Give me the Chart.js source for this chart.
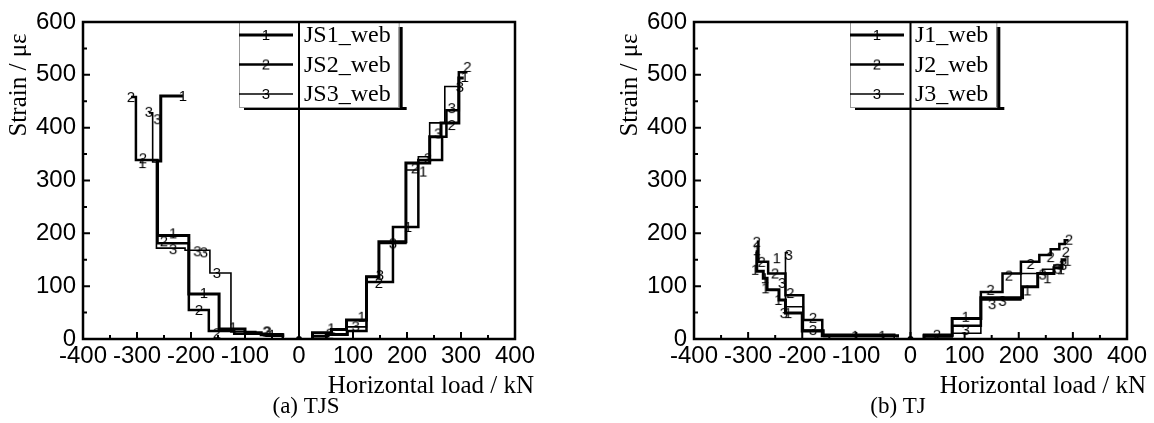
<!DOCTYPE html>
<html>
<head>
<meta charset="utf-8">
<script src="https://cdn.jsdelivr.net/npm/chart.js@4.4.1/dist/chart.umd.min.js"></script>
<style>
  html, body { margin: 0; padding: 0; background: #fff; }
  #wrap { position: relative; width: 1154px; height: 423px; }
  canvas { position: absolute; top: 0; }
  #tjs { left: 0; }
  #tj { left: 577px; }
</style>
</head>
<body>
<div id="wrap">
  <canvas id="tjs" width="577" height="423"></canvas>
  <canvas id="tj" width="577" height="423"></canvas>
</div>
<script>
// step curves: load (kN) / strain (με), negative side then null then positive side
// (a) TJS
const tjs1Load = [-30, -70, -100, -148, -204, -262, -256, -215, null, 25, 60, 88, 125, 148, 198, 242, 263, 296, 305];
const tjs1Strain = [4, 8, 12, 19, 85, 196, 337, 460, null, 0, 12, 18, 36, 118, 184, 333, 383, 409, 494];
const tjs2Load = [-30, -60, -120, -167, -204, -262, -302, -311, null, 25, 50, 90, 125, 174, 221, 265, 273, 296, 312];
const tjs2Strain = [2, 6, 10, 15, 55, 181, 339, 458, null, 0, 5, 8, 15, 108, 212, 339, 383, 433, 505];
const tjs3Load = [-30, -80, -126, -165, -211, -264, -271, -278, null, 25, 55, 88, 125, 148, 198, 221, 242, 270, 300];
const tjs3Strain = [8, 10, 14, 125, 168, 172, 335, 428, null, 0, 5, 10, 23, 118, 181, 320, 345, 409, 478];

// number symbols on the curves
const tjs1MarkLoad = [-50, -122, -176, -233, -290, -215, 60, 116, 202, 230, 307];
const tjs1MarkStrain = [8, 22, 87, 200, 333, 460, 20, 42, 212, 317, 496];
const tjs2MarkLoad = [-311, -289, -250, -185, -152, -60, 57, 148, 215, 283, 312];
const tjs2MarkStrain = [458, 342, 185, 55, 11, 14, 10, 106, 323, 405, 515];
const tjs3MarkLoad = [-278, -262, -233, -188, -176, -152, -58, 105, 150, 174, 239, 258, 283, 298];
const tjs3MarkStrain = [430, 416, 170, 166, 164, 125, 14, 24, 121, 181, 342, 389, 437, 477];

// (b) TJ
const tj1Load = [-24, -163, -200, -231, -243, -265, -272, -284, -286, null, 25, 77, 130, 207, 235, 265, 280, 288];
const tj1Strain = [3, 6, 15, 49, 74, 93, 115, 128, 165, null, 2, 6, 39, 78, 99, 124, 135, 150];
const tj2Load = [-30, -163, -198, -231, -263, -281, -284, null, 25, 77, 130, 170, 204, 238, 259, 275, 285, 292];
const tj2Strain = [5, 8, 36, 83, 124, 146, 184, null, 3, 8, 25, 89, 124, 146, 159, 170, 180, 187];
const tj3Load = [-30, -160, -198, -231, -226, null, 25, 77, 130, 204, 244, 265, 282];
const tj3Strain = [2, 5, 17, 61, 163, null, 2, 4, 11, 74, 124, 132, 140];

const tj1MarkLoad = [-52, -102, -226, -244, -268, -269, -287, -284, -247, 102, 216, 253, 278, 290];
const tj1MarkStrain = [6, 6, 49, 74, 96, 115, 131, 168, 153, 42, 92, 115, 132, 148];
const tj2MarkLoad = [-284, -275, -250, -222, -180, 49, 148, 182, 222, 259, 287, 293];
const tj2MarkStrain = [184, 146, 124, 87, 40, 8, 93, 120, 142, 155, 165, 188];
const tj3MarkLoad = [-225, -237, -234, -180, 102, 151, 170, 244, 272, 282];
const tj3MarkStrain = [159, 106, 49, 17, 17, 66, 72, 122, 133, 140];

const lineWidths = [3, 2.5, 1.6];

function pts(xs, ys) {
  return xs.map((x, i) => ({ x: x, y: ys[i] }));
}

function digitMark(d) {
  const c = document.createElement("canvas");
  c.width = 12;
  c.height = 16;
  const g = c.getContext("2d");
  g.font = '15px "Liberation Sans"';
  g.textAlign = "center";
  g.textBaseline = "middle";
  g.fillStyle = "#000";
  g.fillText(d, 6, 8.5);
  return c;
}
const marks = [digitMark("1"), digitMark("2"), digitMark("3")];

function stepSet(xs, ys, i) {
  return {
    data: pts(xs, ys),
    showLine: true,
    stepped: "after",
    borderColor: "#000",
    borderWidth: lineWidths[i],
    pointRadius: 0,
    fill: false,
    order: 1,
  };
}

function markSet(xs, ys, i) {
  return {
    data: pts(xs, ys),
    showLine: false,
    pointStyle: marks[i],
    pointRadius: 5,
    order: 0,
  };
}

const originDot = {
  data: [{ x: 0, y: 0 }],
  showLine: false,
  pointRadius: 3,
  pointBackgroundColor: "#000",
  pointBorderWidth: 0,
  order: 0,
};

// legend box, frame, zero line, inward ticks and titles
const decor = {
  id: "decor",
  afterDraw(chart, args, o) {
    const { ctx, chartArea: a, scales } = chart;
    const x = scales.x, y = scales.y;
    ctx.save();

    // legend
    ctx.font = '24px "Liberation Serif"';
    const tw = Math.max(...o.labels.map((t) => ctx.measureText(t).width));
    const bx = a.left + 156, by = a.top;
    const bw = 65 + tw + 9, bh = 85;
    ctx.fillStyle = "#fff";
    ctx.fillRect(bx, by, bw, bh);
    ctx.fillStyle = "#000";
    ctx.fillRect(bx + bw - 1, by + 5, 4, bh - 2);
    ctx.fillRect(bx + 5, by + bh, bw + 2, 3);
    ctx.strokeStyle = "#999";
    ctx.lineWidth = 1;
    ctx.strokeRect(bx + 0.5, by + 0.5, bw - 1, bh);
    ctx.strokeStyle = "#000";
    o.labels.forEach((t, i) => {
      const ry = by + 13 + i * 29.5;
      ctx.beginPath();
      ctx.lineWidth = lineWidths[i];
      ctx.moveTo(bx, ry);
      ctx.lineTo(bx + 54, ry);
      ctx.stroke();
      ctx.drawImage(marks[i], bx + 27 - 6, ry - 8);
      ctx.fillStyle = "#000";
      ctx.textAlign = "left";
      ctx.textBaseline = "middle";
      ctx.fillText(t, bx + 65, ry + 1);
    });

    // frame
    ctx.strokeStyle = "#000";
    ctx.lineWidth = 2.5;
    ctx.strokeRect(a.left, a.top, a.width, a.height);

    // zero line
    const x0 = x.getPixelForValue(0);
    ctx.lineWidth = 2;
    ctx.beginPath();
    ctx.moveTo(x0, a.bottom);
    ctx.lineTo(x0, a.top);
    ctx.stroke();

    // inward major and minor ticks
    ctx.lineWidth = 2;
    ctx.beginPath();
    x.ticks.forEach((t, i) => {
      const px = x.getPixelForValue(t.value);
      ctx.moveTo(px, a.bottom);
      ctx.lineTo(px, a.bottom - 7);
      if (i > 0) {
        const pm = x.getPixelForValue((t.value + x.ticks[i - 1].value) / 2);
        ctx.moveTo(pm, a.bottom);
        ctx.lineTo(pm, a.bottom - 4);
      }
    });
    y.ticks.forEach((t, i) => {
      const py = y.getPixelForValue(t.value);
      ctx.moveTo(a.left, py);
      ctx.lineTo(a.left + 7, py);
      if (i > 0) {
        const pm = y.getPixelForValue((t.value + y.ticks[i - 1].value) / 2);
        ctx.moveTo(a.left, pm);
        ctx.lineTo(a.left + 4, pm);
      }
    });
    ctx.stroke();

    // titles
    ctx.fillStyle = "#000";
    ctx.font = '25px "Liberation Serif"';
    ctx.textAlign = "right";
    ctx.textBaseline = "alphabetic";
    ctx.fillText(o.xTitle, a.right + 19, a.bottom + 54);
    ctx.save();
    ctx.translate(a.left - 64, a.top + 63);
    ctx.rotate(-Math.PI / 2);
    ctx.textAlign = "center";
    ctx.textBaseline = "middle";
    ctx.fillText(o.yTitle, 0, 0);
    ctx.restore();
    ctx.font = '23px "Liberation Serif"';
    ctx.textAlign = "center";
    ctx.fillText(o.caption, o.captionX, a.bottom + 74);

    ctx.restore();
  },
};

function makeChart(id, lines, marksData, opts) {
  const datasets = [];
  lines.forEach((l, i) => datasets.push(stepSet(l[0], l[1], i)));
  marksData.forEach((m, i) => datasets.push(markSet(m[0], m[1], i)));
  datasets.push(originDot);

  const tickFont = { family: "Liberation Sans", size: 24 };
  return new Chart(document.getElementById(id), {
    type: "scatter",
    data: { datasets },
    options: {
      responsive: false,
      devicePixelRatio: 1,
      animation: false,
      events: [],
      layout: { padding: { top: 22, right: opts.padRight, left: 0, bottom: 0 } },
      scales: {
        x: {
          type: "linear",
          min: -400,
          max: 400,
          afterFit: (s) => { s.height = 84; },
          grid: { display: false, drawTicks: false },
          border: { display: false },
          ticks: { stepSize: 100, font: tickFont, color: "#000", padding: 3, maxRotation: 0, autoSkip: false },
        },
        y: {
          type: "linear",
          min: 0,
          max: 600,
          afterFit: (s) => { s.width = opts.axisW; },
          grid: { display: false, drawTicks: false },
          border: { display: false },
          ticks: { stepSize: 100, font: tickFont, color: "#000", padding: 7 },
        },
      },
      plugins: {
        legend: { display: false },
        tooltip: { enabled: false },
        decor: {
          labels: opts.labels,
          caption: opts.caption,
          captionX: opts.captionX,
          xTitle: "Horizontal load / kN",
          yTitle: "Strain / με",
        },
      },
    },
    plugins: [decor],
  });
}

makeChart(
  "tjs",
  [[tjs1Load, tjs1Strain], [tjs2Load, tjs2Strain], [tjs3Load, tjs3Strain]],
  [[tjs1MarkLoad, tjs1MarkStrain], [tjs2MarkLoad, tjs2MarkStrain], [tjs3MarkLoad, tjs3MarkStrain]],
  { axisW: 83, padRight: 62, labels: ["JS1_web", "JS2_web", "JS3_web"], caption: "(a) TJS", captionX: 306 }
);

makeChart(
  "tj",
  [[tj1Load, tj1Strain], [tj2Load, tj2Strain], [tj3Load, tj3Strain]],
  [[tj1MarkLoad, tj1MarkStrain], [tj2MarkLoad, tj2MarkStrain], [tj3MarkLoad, tj3MarkStrain]],
  { axisW: 117, padRight: 27, labels: ["J1_web", "J2_web", "J3_web"], caption: "(b) TJ", captionX: 321 }
);
</script>
</body>
</html>
